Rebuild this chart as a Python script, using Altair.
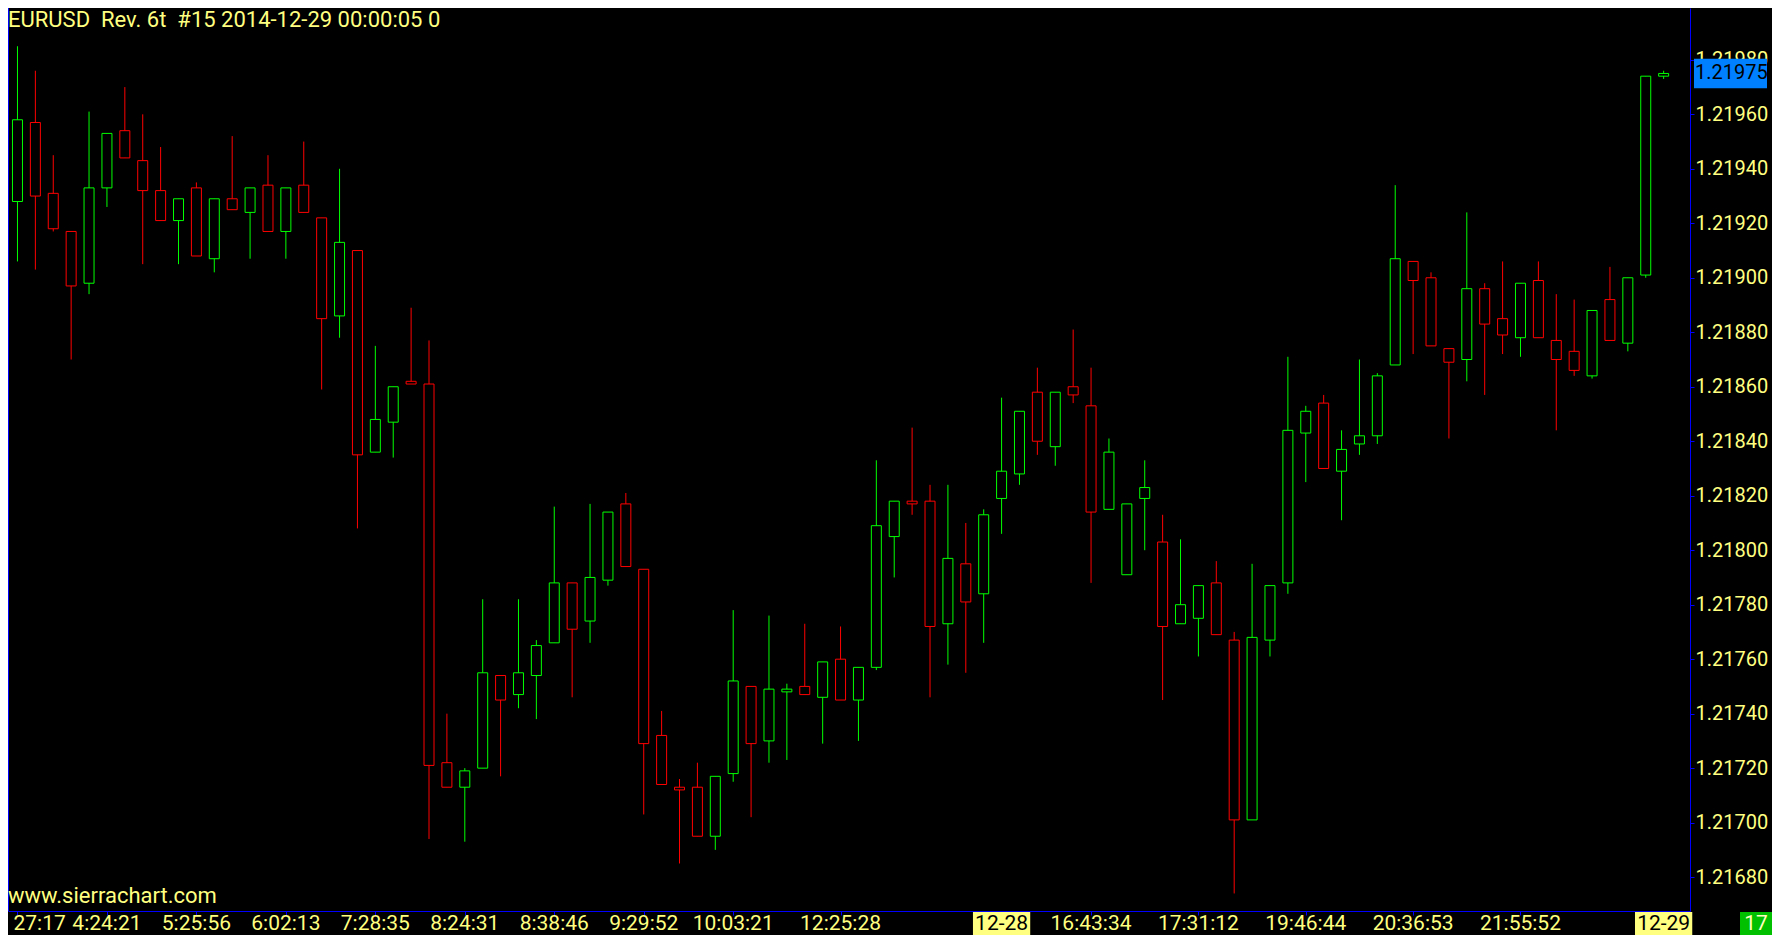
import altair as alt
import pandas as pd

# ---------------- data ----------------
opens = [
    1.21928, 1.21957, 1.21931, 1.21917, 1.21898, 1.21933, 1.21954, 1.21943, 1.21932, 1.21921,
    1.21933, 1.21907, 1.21929, 1.21924, 1.21934, 1.21917, 1.21934, 1.21922, 1.21886, 1.21910,
    1.21836, 1.21847, 1.21862, 1.21861, 1.21722, 1.21713, 1.21720, 1.21754, 1.21747, 1.21754,
    1.21766, 1.21788, 1.21774, 1.21789, 1.21817, 1.21793, 1.21732, 1.21713, 1.21713, 1.21695,
    1.21718, 1.21750, 1.21730, 1.21748, 1.21750, 1.21746, 1.21760, 1.21745, 1.21757, 1.21805,
    1.21818, 1.21818, 1.21773, 1.21795, 1.21784, 1.21819, 1.21828, 1.21858, 1.21838, 1.21860,
    1.21853, 1.21815, 1.21791, 1.21819, 1.21803, 1.21773, 1.21775, 1.21788, 1.21767, 1.21701,
    1.21767, 1.21788, 1.21843, 1.21854, 1.21829, 1.21839, 1.21842, 1.21868, 1.21906, 1.21900,
    1.21874, 1.21870, 1.21896, 1.21885, 1.21878, 1.21899, 1.21877, 1.21873, 1.21864, 1.21892,
    1.21876, 1.21901, 1.21974,
]
highs = [
    1.21985, 1.21976, 1.21945, 1.21917, 1.21961, 1.21953, 1.21970, 1.21960, 1.21948, 1.21929,
    1.21935, 1.21929, 1.21952, 1.21933, 1.21945, 1.21933, 1.21950, 1.21922, 1.21940, 1.21910,
    1.21875, 1.21860, 1.21889, 1.21877, 1.21740, 1.21720, 1.21782, 1.21754, 1.21782, 1.21767,
    1.21816, 1.21788, 1.21817, 1.21814, 1.21821, 1.21793, 1.21741, 1.21716, 1.21722, 1.21717,
    1.21778, 1.21750, 1.21776, 1.21751, 1.21773, 1.21759, 1.21772, 1.21757, 1.21833, 1.21818,
    1.21845, 1.21824, 1.21824, 1.21810, 1.21815, 1.21856, 1.21851, 1.21867, 1.21858, 1.21881,
    1.21867, 1.21841, 1.21817, 1.21833, 1.21813, 1.21804, 1.21787, 1.21796, 1.21770, 1.21795,
    1.21787, 1.21871, 1.21853, 1.21857, 1.21844, 1.21870, 1.21865, 1.21934, 1.21906, 1.21902,
    1.21874, 1.21924, 1.21898, 1.21906, 1.21898, 1.21906, 1.21894, 1.21892, 1.21888, 1.21904,
    1.21900, 1.21974, 1.21976,
]
lows = [
    1.21906, 1.21903, 1.21917, 1.21870, 1.21894, 1.21926, 1.21944, 1.21905, 1.21921, 1.21905,
    1.21908, 1.21902, 1.21925, 1.21907, 1.21917, 1.21907, 1.21924, 1.21859, 1.21878, 1.21808,
    1.21836, 1.21834, 1.21861, 1.21694, 1.21713, 1.21693, 1.21720, 1.21717, 1.21742, 1.21738,
    1.21766, 1.21746, 1.21766, 1.21787, 1.21794, 1.21703, 1.21714, 1.21685, 1.21695, 1.21690,
    1.21715, 1.21702, 1.21722, 1.21723, 1.21747, 1.21729, 1.21745, 1.21730, 1.21756, 1.21790,
    1.21813, 1.21746, 1.21758, 1.21755, 1.21766, 1.21806, 1.21824, 1.21835, 1.21831, 1.21854,
    1.21788, 1.21815, 1.21791, 1.21800, 1.21745, 1.21773, 1.21761, 1.21769, 1.21674, 1.21701,
    1.21761, 1.21784, 1.21825, 1.21830, 1.21811, 1.21835, 1.21839, 1.21868, 1.21872, 1.21875,
    1.21841, 1.21862, 1.21857, 1.21872, 1.21871, 1.21878, 1.21844, 1.21864, 1.21863, 1.21877,
    1.21873, 1.21900, 1.21973,
]
closes = [
    1.21958, 1.21930, 1.21918, 1.21897, 1.21933, 1.21953, 1.21944, 1.21932, 1.21921, 1.21929,
    1.21908, 1.21929, 1.21925, 1.21933, 1.21917, 1.21933, 1.21924, 1.21885, 1.21913, 1.21835,
    1.21848, 1.21860, 1.21861, 1.21721, 1.21713, 1.21719, 1.21755, 1.21745, 1.21755, 1.21765,
    1.21788, 1.21771, 1.21790, 1.21814, 1.21794, 1.21729, 1.21714, 1.21712, 1.21695, 1.21717,
    1.21752, 1.21729, 1.21749, 1.21749, 1.21747, 1.21759, 1.21745, 1.21757, 1.21809, 1.21818,
    1.21817, 1.21772, 1.21797, 1.21781, 1.21813, 1.21829, 1.21851, 1.21840, 1.21858, 1.21857,
    1.21814, 1.21836, 1.21817, 1.21823, 1.21772, 1.21780, 1.21787, 1.21769, 1.21701, 1.21768,
    1.21787, 1.21844, 1.21851, 1.21830, 1.21837, 1.21842, 1.21864, 1.21907, 1.21899, 1.21875,
    1.21869, 1.21896, 1.21883, 1.21879, 1.21898, 1.21878, 1.21870, 1.21866, 1.21888, 1.21877,
    1.21900, 1.21974, 1.21975,
]

x_tick_index = [0, 5, 10, 15, 20, 25, 30, 35, 40, 46, 55, 60, 66, 72, 78, 84, 92]
x_tick_labels = ["27:17", "4:24:21", "5:25:56", "6:02:13", "7:28:35", "8:24:31",
                 "8:38:46", "9:29:52", "10:03:21", "12:25:28", "12-28", "16:43:34",
                 "17:31:12", "19:46:44", "20:36:53", "21:55:52", "12-29"]

y_tick_values = [1.21680, 1.21700, 1.21720, 1.21740, 1.21760, 1.21780, 1.21800, 1.21820,
                 1.21840, 1.21860, 1.21880, 1.21900, 1.21920, 1.21940, 1.21960, 1.21980]

title_text = "EURUSD\u00a0\u00a0Rev. 6t\u00a0\u00a0#15 2014-12-29 00:00:05 0"
watermark_text = "www.sierrachart.com"
counter_text = "17"

# ---------------- styling ----------------
PLOT_W, PLOT_H = 1682, 903
YELLOW = "#FFFF80"
BLUE = "#0000FF"
FONT = "Roboto"
FS_AX = 20
FS_X = 21
FS_T = 22

candles = pd.DataFrame({
    "i": list(range(len(opens))),
    "open": opens, "high": highs, "low": lows, "close": closes,
})
candles["dir"] = ["up" if c >= o else "down" for o, c in zip(opens, closes)]

xscale = alt.Scale(domain=[-0.25, 93.1944], nice=False, zero=False)
yscale = alt.Scale(domain=[1.2166756, 1.2199903], nice=False, zero=False)
dir_scale = alt.Scale(domain=["up", "down"], range=["#00FF00", "#FF0000"])

x_axis = alt.Axis(values=x_tick_index, labels=False, ticks=True, tickSize=4,
                  tickColor=BLUE, tickWidth=1, domainColor=BLUE, domainWidth=1,
                  grid=False, title=None)
y_axis = alt.Axis(orient="right", values=y_tick_values, format=".5f",
                  labelColor=YELLOW, labelFont=FONT, labelFontSize=FS_AX,
                  labelPadding=1, tickColor=BLUE, tickSize=4, tickWidth=1,
                  domainColor=BLUE, domainWidth=1, grid=False, title=None,
                  labelFlush=False, labelOverlap=False)


def X(field):
    return alt.X(field, scale=xscale, axis=x_axis)


def Y(field):
    return alt.Y(field, scale=yscale, axis=y_axis)


base = alt.Chart(candles)

wicks = base.mark_rule(strokeWidth=1).encode(
    x=X("i:Q"),
    y=Y("low:Q"),
    y2="high:Q",
    color=alt.Color("dir:N", scale=dir_scale, legend=None),
)

bodies = base.mark_bar(width=10, fill="black", strokeWidth=1).encode(
    x=X("i:Q"),
    y=Y("open:Q"),
    y2="close:Q",
    stroke=alt.Stroke("dir:N", scale=dir_scale, legend=None),
)

one = alt.Data(values=[{"a": 1}])
left_border = alt.Chart(one).mark_rule(color=BLUE, strokeWidth=2).encode(
    x=alt.value(0), y=alt.value(0), y2=alt.value(PLOT_H)
)

title = alt.Chart(alt.Data(values=[{"t": title_text}])).mark_text(
    align="left", baseline="middle", font=FONT, fontSize=FS_T, color=YELLOW
).encode(x=alt.value(0), y=alt.value(12), text="t:N")

watermark = alt.Chart(alt.Data(values=[{"t": watermark_text}])).mark_text(
    align="left", baseline="middle", font=FONT, fontSize=FS_T, color=YELLOW
).encode(x=alt.value(0), y=alt.value(PLOT_H - 15), text="t:N")

labels_df = pd.DataFrame({"i": x_tick_index, "label": x_tick_labels})
lab = alt.Chart(labels_df)
is_date = "indexof(datum.label, '-') >= 0"

date_boxes = lab.transform_filter(is_date).transform_calculate(
    x1="datum.i - 1.6", x2="datum.i + 1.6"
).mark_rect(color=YELLOW).encode(
    x=X("x1:Q"), x2="x2:Q",
    y=alt.value(PLOT_H + 1), y2=alt.value(PLOT_H + 24),
)
date_text = lab.transform_filter(is_date).mark_text(
    align="center", baseline="middle", font=FONT, fontSize=FS_X, color="black"
).encode(x=X("i:Q"), y=alt.value(PLOT_H + 13), text="label:N")

time_text = lab.transform_filter("!(" + is_date + ") && datum.i > 0").mark_text(
    align="center", baseline="middle", font=FONT, fontSize=FS_X, color=YELLOW
).encode(x=X("i:Q"), y=alt.value(PLOT_H + 13), text="label:N")

first_text = lab.transform_filter("datum.i == 0").mark_text(
    align="left", baseline="middle", font=FONT, fontSize=FS_X, color=YELLOW, dx=-4
).encode(x=X("i:Q"), y=alt.value(PLOT_H + 13), text="label:N")

last = alt.Data(values=[{"p": closes[-1]}])
price_box = alt.Chart(last).transform_calculate(
    p1="datum.p - 0.000054", p2="datum.p + 0.000054"
).mark_rect(color="#0080FF").encode(
    x=alt.value(PLOT_W + 4), x2=alt.value(PLOT_W + 77),
    y=Y("p1:Q"), y2="p2:Q",
)
price_text = alt.Chart(last).mark_text(
    align="left", baseline="middle", font=FONT, fontSize=FS_AX, color="black"
).encode(
    x=alt.value(PLOT_W + 5),
    y=Y("p:Q"),
    text=alt.Text("p:Q", format=".5f"),
)

counter_data = alt.Data(values=[{"t": counter_text}])
counter_box = alt.Chart(counter_data).mark_rect(color="#00C000").encode(
    x=alt.value(PLOT_W + 50), x2=alt.value(PLOT_W + 82),
    y=alt.value(PLOT_H + 1), y2=alt.value(PLOT_H + 24),
)
counter_txt = alt.Chart(counter_data).mark_text(
    align="center", baseline="middle", font=FONT, fontSize=FS_X, color="#FFFFC0"
).encode(x=alt.value(PLOT_W + 66), y=alt.value(PLOT_H + 13), text="t:N")

chart = alt.layer(
    wicks, bodies, left_border, title, watermark,
    date_boxes, date_text, time_text, first_text,
    price_box, price_text, counter_box, counter_txt,
).properties(
    width=PLOT_W, height=PLOT_H,
    autosize=alt.AutoSizeParams(type="none"),
    padding={"left": 0, "top": 0, "right": 82, "bottom": 24},
    background="black",
).configure_view(stroke=None)

chart.save("out.html", embed_options={"renderer": "svg", "actions": False})
